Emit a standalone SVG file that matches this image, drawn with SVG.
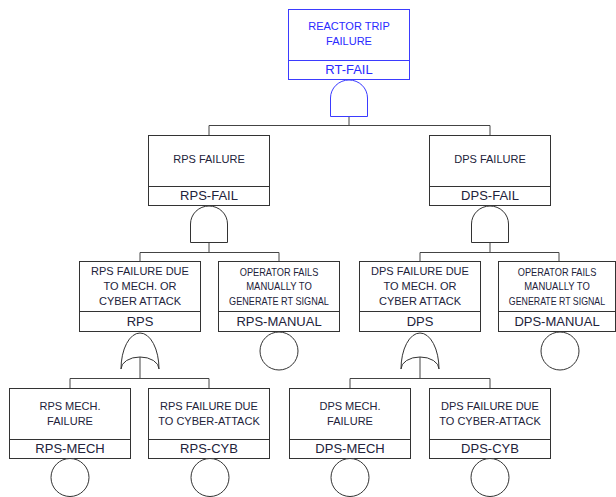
<svg xmlns="http://www.w3.org/2000/svg" width="616" height="497" viewBox="0 0 616 497">
<style>
.bx{fill:#fff;stroke:#333;stroke-width:1}
.dv{stroke:#333;stroke-width:1;fill:none}
.gt{fill:#fff;stroke:#333;stroke-width:1}
.cn{stroke:#444;stroke-width:1;fill:none}
.ds{font-family:"Liberation Sans",Arial,sans-serif;font-size:11px;fill:#22223a;text-anchor:middle}
.id{font-family:"Liberation Sans",Arial,sans-serif;font-size:13px;fill:#22223a;text-anchor:middle}
.blue .bx,.blue .dv,.blue .gt{stroke:#3b3bff}
.blue .ds,.blue .id{fill:#2a2aff}
</style>
<rect width="616" height="497" fill="#fff"/>
<g id="connectors">
<path class="cn" d="M349,116.5V125.5M209,125.5H490M209,125.5V135.5M490,125.5V135.5"/>
<path class="cn" d="M209,242.5V252.5M140,252.5H279M140,252.5V261.5M279,252.5V261.5"/>
<path class="cn" d="M490,242.5V252.5M420,252.5H559M420,252.5V261.5M559,252.5V261.5"/>
<path class="cn" d="M140,357V378.5M70,378.5H209M70,378.5V388.5M209,378.5V388.5"/>
<path class="cn" d="M420,357V378.5M350,378.5H490M350,378.5V388.5M490,378.5V388.5"/>
</g>
<g id="RT-FAIL" class="blue">
<rect class="bx" x="288.5" y="9.5" width="121" height="70"/>
<path class="dv" d="M288.5,60.5H409.5"/>
<text class="ds" x="349" y="30">REACTOR TRIP</text>
<text class="ds" x="349" y="45">FAILURE</text>
<text class="id" x="349" y="74">RT-FAIL</text>
<path class="gt" d="M330.5,116.5V98A18.5 18 0 0 1 367.5,98V116.5Z"/>
</g>
<g id="RPS-FAIL">
<rect class="bx" x="148.5" y="135.5" width="121" height="70"/>
<path class="dv" d="M148.5,186.5H269.5"/>
<text class="ds" x="209" y="163">RPS FAILURE</text>
<text class="id" x="209" y="200">RPS-FAIL</text>
<path class="gt" d="M190.5,242.5V224A18.5 18 0 0 1 227.5,224V242.5Z"/>
</g>
<g id="DPS-FAIL">
<rect class="bx" x="429.5" y="135.5" width="121" height="70"/>
<path class="dv" d="M429.5,186.5H550.5"/>
<text class="ds" x="490" y="163">DPS FAILURE</text>
<text class="id" x="490" y="200">DPS-FAIL</text>
<path class="gt" d="M471.5,242.5V224A18.5 18 0 0 1 508.5,224V242.5Z"/>
</g>
<g id="RPS">
<rect class="bx" x="79.5" y="261.5" width="121" height="70"/>
<path class="dv" d="M79.5,311.5H200.5"/>
<text class="ds" x="140" y="275">RPS FAILURE DUE</text>
<text class="ds" x="140" y="290">TO MECH. OR</text>
<text class="ds" x="140" y="305">CYBER ATTACK</text>
<text class="id" x="140" y="326">RPS</text>
<path class="gt" d="M121,369A19 36 0 0 1 140,333A19 36 0 0 1 159,369A19 12 0 0 0 121,369Z"/>
</g>
<g id="RPS-MANUAL">
<rect class="bx" x="218.5" y="261.5" width="121" height="70"/>
<path class="dv" d="M218.5,311.5H339.5"/>
<text class="ds" transform="translate(279,276) scale(0.84,1)">OPERATOR FAILS</text>
<text class="ds" transform="translate(279,290) scale(0.86,1)">MANUALLY TO</text>
<text class="ds" transform="translate(279,305) scale(0.83,1)">GENERATE RT SIGNAL</text>
<text class="id" x="279" y="326">RPS-MANUAL</text>
<circle class="gt" cx="279" cy="351" r="19"/>
</g>
<g id="DPS">
<rect class="bx" x="359.5" y="261.5" width="121" height="70"/>
<path class="dv" d="M359.5,311.5H480.5"/>
<text class="ds" x="420" y="275">DPS FAILURE DUE</text>
<text class="ds" x="420" y="290">TO MECH. OR</text>
<text class="ds" x="420" y="305">CYBER ATTACK</text>
<text class="id" x="420" y="326">DPS</text>
<path class="gt" d="M401,369A19 36 0 0 1 420,333A19 36 0 0 1 439,369A19 12 0 0 0 401,369Z"/>
</g>
<g id="DPS-MANUAL">
<rect class="bx" x="498.5" y="261.5" width="117" height="70"/>
<path class="dv" d="M498.5,311.5H615.5"/>
<text class="ds" transform="translate(557,276) scale(0.84,1)">OPERATOR FAILS</text>
<text class="ds" transform="translate(557,290) scale(0.86,1)">MANUALLY TO</text>
<text class="ds" transform="translate(557,305) scale(0.8,1)">GENERATE RT SIGNAL</text>
<text class="id" x="557" y="326">DPS-MANUAL</text>
<circle class="gt" cx="560" cy="351" r="19"/>
</g>
<g id="RPS-MECH">
<rect class="bx" x="9.5" y="388.5" width="121" height="70"/>
<path class="dv" d="M9.5,439.5H130.5"/>
<text class="ds" x="70" y="410">RPS MECH.</text>
<text class="ds" x="70" y="425">FAILURE</text>
<text class="id" x="70" y="453">RPS-MECH</text>
<circle class="gt" cx="70" cy="477.5" r="19"/>
</g>
<g id="RPS-CYB">
<rect class="bx" x="148.5" y="388.5" width="121" height="70"/>
<path class="dv" d="M148.5,439.5H269.5"/>
<text class="ds" x="209" y="410">RPS FAILURE DUE</text>
<text class="ds" x="209" y="425">TO CYBER-ATTACK</text>
<text class="id" x="209" y="453">RPS-CYB</text>
<circle class="gt" cx="210" cy="477.5" r="19"/>
</g>
<g id="DPS-MECH">
<rect class="bx" x="289.5" y="388.5" width="121" height="70"/>
<path class="dv" d="M289.5,439.5H410.5"/>
<text class="ds" x="350" y="410">DPS MECH.</text>
<text class="ds" x="350" y="425">FAILURE</text>
<text class="id" x="350" y="453">DPS-MECH</text>
<circle class="gt" cx="350" cy="477.5" r="19"/>
</g>
<g id="DPS-CYB">
<rect class="bx" x="429.5" y="388.5" width="121" height="70"/>
<path class="dv" d="M429.5,439.5H550.5"/>
<text class="ds" x="490" y="410">DPS FAILURE DUE</text>
<text class="ds" x="490" y="425">TO CYBER-ATTACK</text>
<text class="id" x="490" y="453">DPS-CYB</text>
<circle class="gt" cx="490" cy="477.5" r="19"/>
</g>
</svg>
